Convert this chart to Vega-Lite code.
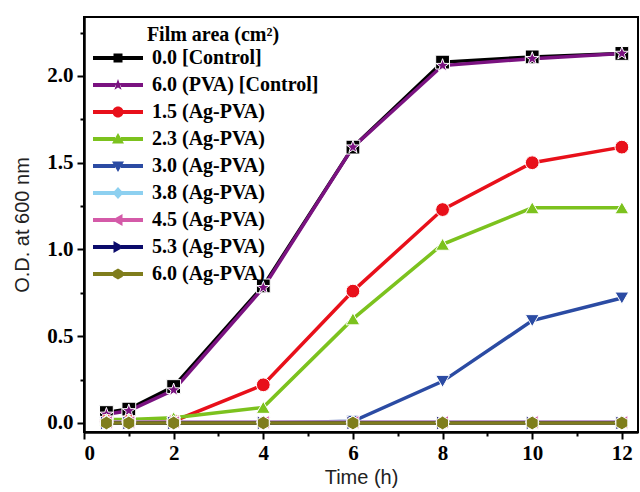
{
  "$schema": "https://vega.github.io/schema/vega-lite/v6.json",
  "width": 554,
  "height": 415,
  "autosize": {"type": "none"},
  "padding": {"left": 84, "top": 17, "right": 2, "bottom": 60},
  "background": "white",
  "config": {
    "view": {"stroke": "#000000", "strokeWidth": 2},
    "axis": {
      "domainColor": "#000000", "domainWidth": 2.5, "tickColor": "#000000", "tickWidth": 2,
      "labelFont": "Liberation Serif", "labelFontWeight": "bold", "labelFontSize": 21, "labelColor": "#000000",
      "titleFont": "Liberation Sans", "titleFontWeight": "normal", "titleFontSize": 20, "titleColor": "#222222",
      "grid": false
    }
  },
  "datasets": {
    "growth": [
      {"t": 0.5, "od": 0.06, "series": "0.0 [Control]"},
      {"t": 1, "od": 0.08, "series": "0.0 [Control]"},
      {"t": 2, "od": 0.21, "series": "0.0 [Control]"},
      {"t": 4, "od": 0.79, "series": "0.0 [Control]"},
      {"t": 6, "od": 1.59, "series": "0.0 [Control]"},
      {"t": 8, "od": 2.08, "series": "0.0 [Control]"},
      {"t": 10, "od": 2.11, "series": "0.0 [Control]"},
      {"t": 12, "od": 2.13, "series": "0.0 [Control]"},
      {"t": 0.5, "od": 0.05, "series": "6.0 (PVA) [Control]"},
      {"t": 1, "od": 0.07, "series": "6.0 (PVA) [Control]"},
      {"t": 2, "od": 0.19, "series": "6.0 (PVA) [Control]"},
      {"t": 4, "od": 0.78, "series": "6.0 (PVA) [Control]"},
      {"t": 6, "od": 1.59, "series": "6.0 (PVA) [Control]"},
      {"t": 8, "od": 2.06, "series": "6.0 (PVA) [Control]"},
      {"t": 10, "od": 2.10, "series": "6.0 (PVA) [Control]"},
      {"t": 12, "od": 2.13, "series": "6.0 (PVA) [Control]"},
      {"t": 0.5, "od": 0.01, "series": "1.5 (Ag-PVA)"},
      {"t": 1, "od": 0.01, "series": "1.5 (Ag-PVA)"},
      {"t": 2, "od": 0.01, "series": "1.5 (Ag-PVA)"},
      {"t": 4, "od": 0.22, "series": "1.5 (Ag-PVA)"},
      {"t": 6, "od": 0.76, "series": "1.5 (Ag-PVA)"},
      {"t": 8, "od": 1.23, "series": "1.5 (Ag-PVA)"},
      {"t": 10, "od": 1.50, "series": "1.5 (Ag-PVA)"},
      {"t": 12, "od": 1.59, "series": "1.5 (Ag-PVA)"},
      {"t": 0.5, "od": 0.02, "series": "2.3 (Ag-PVA)"},
      {"t": 1, "od": 0.02, "series": "2.3 (Ag-PVA)"},
      {"t": 2, "od": 0.03, "series": "2.3 (Ag-PVA)"},
      {"t": 4, "od": 0.09, "series": "2.3 (Ag-PVA)"},
      {"t": 6, "od": 0.60, "series": "2.3 (Ag-PVA)"},
      {"t": 8, "od": 1.03, "series": "2.3 (Ag-PVA)"},
      {"t": 10, "od": 1.24, "series": "2.3 (Ag-PVA)"},
      {"t": 12, "od": 1.24, "series": "2.3 (Ag-PVA)"},
      {"t": 0.5, "od": 0.0, "series": "3.0 (Ag-PVA)"},
      {"t": 1, "od": 0.0, "series": "3.0 (Ag-PVA)"},
      {"t": 2, "od": 0.0, "series": "3.0 (Ag-PVA)"},
      {"t": 4, "od": 0.0, "series": "3.0 (Ag-PVA)"},
      {"t": 6, "od": 0.01, "series": "3.0 (Ag-PVA)"},
      {"t": 8, "od": 0.24, "series": "3.0 (Ag-PVA)"},
      {"t": 10, "od": 0.59, "series": "3.0 (Ag-PVA)"},
      {"t": 12, "od": 0.72, "series": "3.0 (Ag-PVA)"},
      {"t": 0.5, "od": 0.005, "series": "3.8 (Ag-PVA)"},
      {"t": 1, "od": 0.005, "series": "3.8 (Ag-PVA)"},
      {"t": 2, "od": 0.005, "series": "3.8 (Ag-PVA)"},
      {"t": 4, "od": 0.005, "series": "3.8 (Ag-PVA)"},
      {"t": 6, "od": 0.005, "series": "3.8 (Ag-PVA)"},
      {"t": 8, "od": 0.005, "series": "3.8 (Ag-PVA)"},
      {"t": 10, "od": 0.005, "series": "3.8 (Ag-PVA)"},
      {"t": 12, "od": 0.005, "series": "3.8 (Ag-PVA)"},
      {"t": 0.5, "od": 0.004, "series": "4.5 (Ag-PVA)"},
      {"t": 1, "od": 0.004, "series": "4.5 (Ag-PVA)"},
      {"t": 2, "od": 0.004, "series": "4.5 (Ag-PVA)"},
      {"t": 4, "od": 0.004, "series": "4.5 (Ag-PVA)"},
      {"t": 6, "od": 0.004, "series": "4.5 (Ag-PVA)"},
      {"t": 8, "od": 0.004, "series": "4.5 (Ag-PVA)"},
      {"t": 10, "od": 0.004, "series": "4.5 (Ag-PVA)"},
      {"t": 12, "od": 0.004, "series": "4.5 (Ag-PVA)"},
      {"t": 0.5, "od": 0.0, "series": "5.3 (Ag-PVA)"},
      {"t": 1, "od": 0.0, "series": "5.3 (Ag-PVA)"},
      {"t": 2, "od": 0.0, "series": "5.3 (Ag-PVA)"},
      {"t": 4, "od": 0.0, "series": "5.3 (Ag-PVA)"},
      {"t": 6, "od": 0.0, "series": "5.3 (Ag-PVA)"},
      {"t": 8, "od": 0.0, "series": "5.3 (Ag-PVA)"},
      {"t": 10, "od": 0.0, "series": "5.3 (Ag-PVA)"},
      {"t": 12, "od": 0.0, "series": "5.3 (Ag-PVA)"},
      {"t": 0.5, "od": 0.0, "series": "6.0 (Ag-PVA)"},
      {"t": 1, "od": 0.0, "series": "6.0 (Ag-PVA)"},
      {"t": 2, "od": 0.0, "series": "6.0 (Ag-PVA)"},
      {"t": 4, "od": 0.0, "series": "6.0 (Ag-PVA)"},
      {"t": 6, "od": 0.0, "series": "6.0 (Ag-PVA)"},
      {"t": 8, "od": 0.0, "series": "6.0 (Ag-PVA)"},
      {"t": 10, "od": 0.0, "series": "6.0 (Ag-PVA)"},
      {"t": 12, "od": 0.0, "series": "6.0 (Ag-PVA)"}
    ]
  },
  "data": {"name": "growth"},
  "resolve": {
    "scale": {"shape": "independent"},
    "axis": {"x": "independent", "y": "independent"},
    "legend": {"shape": "independent", "color": "independent", "fill": "independent"}
  },
  "layer": [
    {
      "mark": {"type": "line", "strokeWidth": 3.5},
      "encoding": {
        "x": {"field": "t", "type": "quantitative",
          "scale": {"domain": [0, 12.36], "nice": false, "zero": false},
          "axis": {"orient": "bottom", "values": [1, 3, 5, 7, 9, 11], "labels": false, "domain": false, "tickSize": 4, "title": null}},
        "y": {"field": "od", "type": "quantitative",
          "scale": {"domain": [-0.052, 2.34], "nice": false, "zero": false},
          "axis": {"orient": "left", "values": [0.25, 0.75, 1.25, 1.75, 2.25], "labels": false, "domain": false, "tickSize": 4, "title": null}},
        "color": {"field": "series", "type": "nominal", "legend": null,
          "scale": {
            "domain": ["0.0 [Control]", "6.0 (PVA) [Control]", "1.5 (Ag-PVA)", "2.3 (Ag-PVA)", "3.0 (Ag-PVA)", "3.8 (Ag-PVA)", "4.5 (Ag-PVA)", "5.3 (Ag-PVA)", "6.0 (Ag-PVA)"],
            "range": ["#000000", "#7a1280", "#e8101a", "#7cc21e", "#2b4ba3", "#8dd0f0", "#d45aa8", "#0b0b6b", "#7f7d1c"]
          }}
      }
    },
    {
      "mark": {"type": "point", "filled": true, "size": 190, "opacity": 1, "stroke": "white", "strokeWidth": 1},
      "encoding": {
        "x": {"field": "t", "type": "quantitative",
          "axis": {"orient": "bottom", "values": [0, 2, 4, 6, 8, 10, 12], "tickSize": 7, "labelPadding": 3, "title": "Time (h)", "titlePadding": 4}},
        "y": {"field": "od", "type": "quantitative",
          "axis": {"orient": "left", "values": [0, 0.5, 1, 1.5, 2], "format": ".1f", "tickSize": 7, "labelPadding": 4, "title": "O.D. at 600 nm", "titlePadding": 14}},
        "color": {"field": "series", "type": "nominal", "legend": null},
        "shape": {"field": "series", "type": "nominal", "legend": null,
          "scale": {
            "domain": ["0.0 [Control]", "6.0 (PVA) [Control]", "1.5 (Ag-PVA)", "2.3 (Ag-PVA)", "3.0 (Ag-PVA)", "3.8 (Ag-PVA)", "4.5 (Ag-PVA)", "5.3 (Ag-PVA)", "6.0 (Ag-PVA)"],
            "range": [
              "square",
              "M0,-1L0.235,-0.324L0.951,-0.309L0.38,0.124L0.588,0.809L0,0.4L-0.588,0.809L-0.38,0.124L-0.951,-0.309L-0.235,-0.324Z",
              "circle",
              "triangle-up",
              "triangle-down",
              "diamond",
              "triangle-left",
              "triangle-right",
              "M0,-1L0.866,-0.5L0.866,0.5L0,1L-0.866,0.5L-0.866,-0.5Z"
            ]
          }}
      }
    },
    {
      "mark": {"type": "point", "filled": true, "size": 400, "opacity": 0},
      "encoding": {
        "x": {"field": "t", "type": "quantitative", "axis": null},
        "y": {"field": "od", "type": "quantitative", "axis": null},
        "fill": {"field": "series", "type": "nominal",
          "scale": {
            "domain": ["0.0 [Control]", "6.0 (PVA) [Control]", "1.5 (Ag-PVA)", "2.3 (Ag-PVA)", "3.0 (Ag-PVA)", "3.8 (Ag-PVA)", "4.5 (Ag-PVA)", "5.3 (Ag-PVA)", "6.0 (Ag-PVA)"],
            "range": ["#000000", "#7a1280", "#e8101a", "#7cc21e", "#2b4ba3", "#8dd0f0", "#d45aa8", "#0b0b6b", "#7f7d1c"]
          },
          "legend": {
            "title": "Film area (cm²)", "orient": "none", "legendX": 24, "legendY": 8, "padding": 0,
            "titleFont": "Liberation Serif", "titleFontSize": 20, "titleFontWeight": "bold", "titleColor": "#000000",
            "titleAnchor": "middle", "titlePadding": 3,
            "labelFont": "Liberation Serif", "labelFontSize": 20, "labelFontWeight": "bold", "labelColor": "#000000",
            "labelLimit": 300, "labelOffset": 24, "rowPadding": 7,
            "symbolSize": 400, "symbolOpacity": 1, "symbolStrokeWidth": 0
          }},
        "shape": {"field": "series", "type": "nominal",
          "scale": {
            "domain": ["0.0 [Control]", "6.0 (PVA) [Control]", "1.5 (Ag-PVA)", "2.3 (Ag-PVA)", "3.0 (Ag-PVA)", "3.8 (Ag-PVA)", "4.5 (Ag-PVA)", "5.3 (Ag-PVA)", "6.0 (Ag-PVA)"],
            "range": [
              "M-2.5,-0.2H-0.3V0.2H-2.5Z M0.3,-0.2H2.5V0.2H0.3Z M-0.45,-0.45H0.45V0.45H-0.45Z",
              "M-2.5,-0.2H-0.3V0.2H-2.5Z M0.3,-0.2H2.5V0.2H0.3Z M0,-0.6L0.141,-0.194L0.571,-0.185L0.228,0.074L0.353,0.485L0,0.24L-0.353,0.485L-0.228,0.074L-0.571,-0.185L-0.141,-0.194Z",
              "M-2.5,-0.2H-0.3V0.2H-2.5Z M0.3,-0.2H2.5V0.2H0.3Z M-0.55,0A0.55,0.55 0 1,1 0.55,0A0.55,0.55 0 1,1 -0.55,0Z",
              "M-2.5,-0.2H-0.3V0.2H-2.5Z M0.3,-0.2H2.5V0.2H0.3Z M0,-0.6L0.6,0.45H-0.6Z",
              "M-2.5,-0.2H-0.3V0.2H-2.5Z M0.3,-0.2H2.5V0.2H0.3Z M-0.6,-0.45H0.6L0,0.6Z",
              "M-2.5,-0.2H-0.3V0.2H-2.5Z M0.3,-0.2H2.5V0.2H0.3Z M0,-0.6L0.55,0L0,0.6L-0.55,0Z",
              "M-2.5,-0.2H-0.3V0.2H-2.5Z M0.3,-0.2H2.5V0.2H0.3Z M-0.6,0L0.45,-0.6V0.6Z",
              "M-2.5,-0.2H-0.3V0.2H-2.5Z M0.3,-0.2H2.5V0.2H0.3Z M0.6,0L-0.45,0.6V-0.6Z",
              "M-2.5,-0.2H-0.3V0.2H-2.5Z M0.3,-0.2H2.5V0.2H0.3Z M0,-0.55L0.476,-0.275L0.476,0.275L0,0.55L-0.476,0.275L-0.476,-0.275Z"
            ]
          },
          "legend": {
            "title": "Film area (cm²)", "orient": "none", "legendX": 24, "legendY": 8, "padding": 0,
            "titleFont": "Liberation Serif", "titleFontSize": 20, "titleFontWeight": "bold", "titleColor": "#000000",
            "titleAnchor": "middle", "titlePadding": 3,
            "labelFont": "Liberation Serif", "labelFontSize": 20, "labelFontWeight": "bold", "labelColor": "#000000",
            "labelLimit": 300, "labelOffset": 24, "rowPadding": 7,
            "symbolSize": 400, "symbolOpacity": 1, "symbolStrokeWidth": 0
          }}
      }
    }
  ]
}
